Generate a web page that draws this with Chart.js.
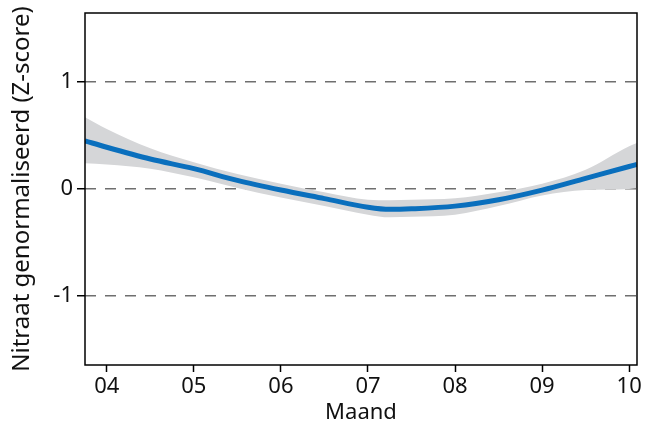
<!DOCTYPE html>
<html>
<head>
<meta charset="utf-8">
<script src="https://cdn.jsdelivr.net/npm/chart.js@4/dist/chart.umd.min.js"></script>
<style>
  html, body { margin: 0; padding: 0; background: #fff; }
  #wrap { width: 655px; height: 426px; }
</style>
</head>
<body>
<div id="wrap"><canvas id="chart1"></canvas></div>
<script>
// maand (als decimaal getal) en geschatte waarden uit de figuur
const maanden = [3.75, 4, 4.5, 5, 5.5, 6, 6.5, 7, 7.25, 7.5, 8, 8.5, 9, 9.5, 10, 10.09];
const nitraat = [0.45, 0.39, 0.28, 0.19, 0.08, -0.01, -0.09, -0.17, -0.19, -0.185, -0.16, -0.10, -0.01, 0.10, 0.21, 0.23];
const bovengrens = [0.67, 0.56, 0.38, 0.25, 0.14, 0.05, -0.03, -0.10, -0.105, -0.10, -0.087, -0.03, 0.05, 0.18, 0.40, 0.43];
const ondergrens = [0.24, 0.23, 0.19, 0.11, 0.01, -0.08, -0.16, -0.24, -0.265, -0.26, -0.24, -0.16, -0.06, -0.01, 0.0, 0.01];
const xTicks = [4, 5, 6, 7, 8, 9, 10];
const yTicks = [-1, 0, 1];

const pts = arr => arr.map((v, i) => ({ x: maanden[i], y: v }));
const font = 'Noto Sans';

const boxPlugin = {
  id: 'box',
  afterDatasetsDraw(chart) {
    const { ctx, chartArea: a } = chart;
    ctx.save();
    ctx.strokeStyle = '#000';
    ctx.lineWidth = 1.5;
    ctx.strokeRect(a.left, a.top, a.right - a.left, a.bottom - a.top);
    ctx.restore();
  }
};

new Chart(document.getElementById('chart1').getContext('2d'), {
  type: 'line',
  data: {
    datasets: [
      { data: pts(nitraat), borderColor: '#0a6fbd', borderWidth: 5, pointRadius: 0, cubicInterpolationMode: 'monotone', fill: false, order: 0 },
      { data: pts(bovengrens), borderWidth: 0, pointRadius: 0, cubicInterpolationMode: 'monotone', backgroundColor: '#d5d6d8', fill: '+1', order: 1 },
      { data: pts(ondergrens), borderWidth: 0, pointRadius: 0, cubicInterpolationMode: 'monotone', fill: false, order: 2 }
    ]
  },
  options: {
    responsive: true,
    maintainAspectRatio: false,
    animation: false,
    layout: { padding: { top: 13, right: 18, left: 0, bottom: 0 } },
    plugins: { legend: { display: false }, tooltip: { enabled: false } },
    scales: {
      x: {
        type: 'linear',
        min: 3.75,
        max: 10.09,
        afterBuildTicks: s => { s.ticks = xTicks.map(v => ({ value: v })); },
        afterFit: s => { s.height = 61; s.paddingLeft = 0; s.paddingRight = 0; },
        ticks: { color: '#111', font: { family: font, size: 22 }, padding: 2, maxRotation: 0,
                 callback: v => String(v).padStart(2, '0') },
        grid: { drawOnChartArea: false, drawTicks: true, tickLength: 7, tickColor: '#000', tickWidth: 1.5 },
        border: { display: false },
        title: { display: true, text: 'Maand', color: '#111', font: { family: font, size: 22 }, padding: { top: 0, bottom: 0 } }
      },
      y: {
        min: -1.645,
        max: 1.645,
        afterBuildTicks: s => { s.ticks = yTicks.map(v => ({ value: v })); },
        afterFit: s => { s.width = 85; s.paddingTop = 0; s.paddingBottom = 0; },
        ticks: { color: '#111', font: { family: font, size: 22 }, padding: 4 },
        grid: { color: '#6f6f6f', lineWidth: 1.5, drawTicks: true, tickLength: 8, tickColor: '#000', tickWidth: 1.5 },
        border: { display: false, dash: [11, 9] },
        title: { display: true, text: 'Nitraat genormaliseerd (Z-score)', color: '#111', font: { family: font, size: 24 }, padding: { top: 8, bottom: 0 } }
      }
    }
  },
  plugins: [boxPlugin]
});
</script>
</body>
</html>
